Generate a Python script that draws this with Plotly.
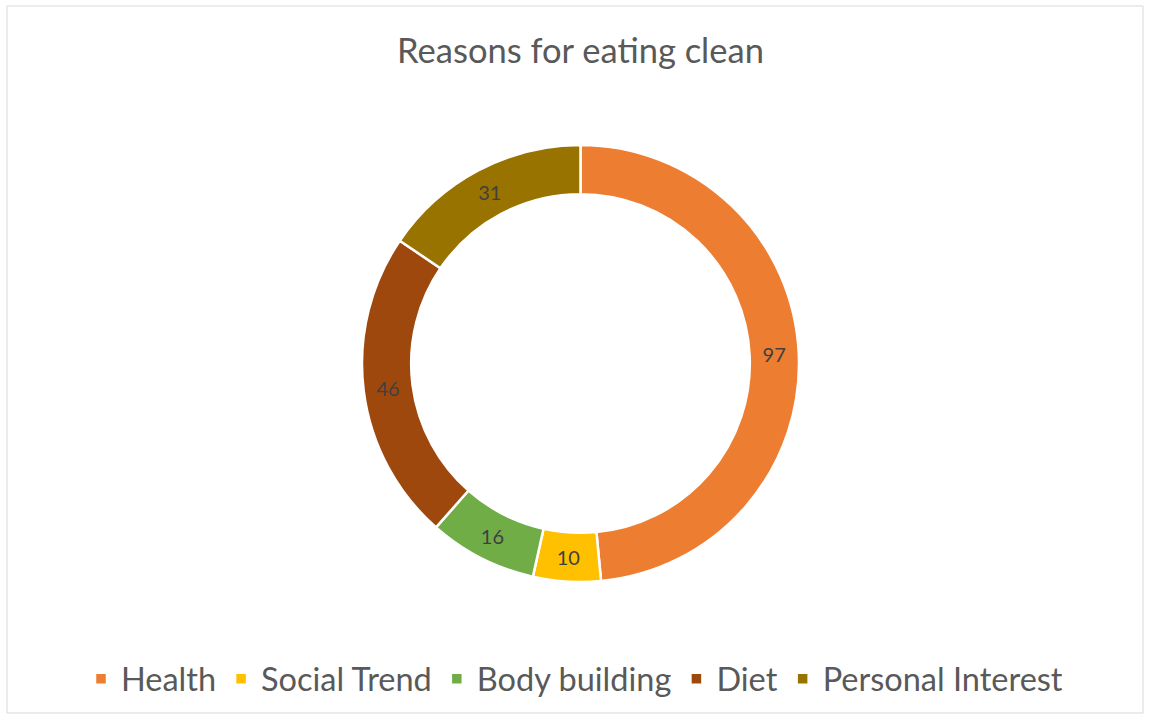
import plotly.graph_objects as go

categories = ["Health", "Social Trend", "Body building", "Diet", "Personal Interest"]
values = [97, 10, 16, 46, 31]
colors = ["#ED7D31", "#FFC000", "#70AD47", "#9E480E", "#997300"]
title_text = "Reasons for eating clean"

W, H = 1149, 718
cx, cy, R = 580.5, 363.5, 218.5

fig = go.Figure(go.Pie(
    labels=categories,
    values=values,
    hole=0.775,
    sort=False,
    direction="clockwise",
    rotation=0,
    marker=dict(colors=colors, line=dict(color="white", width=2.5)),
    textinfo="value",
    textposition="inside",
    insidetextorientation="horizontal",
    textfont=dict(family="Lato, Carlito, sans-serif", size=20, color="#404040"),
    domain=dict(x=[(cx - 560) / W, (cx + 560) / W], y=[(H - cy - R) / H, (H - cy + R) / H]),
    showlegend=True,
))

fig.update_layout(
    width=W, height=H,
    margin=dict(l=0, r=0, t=0, b=0),
    paper_bgcolor="white",
    font=dict(family="Lato, Carlito, sans-serif", color="#595959"),
    title=dict(text=title_text, x=cx / W, xanchor="center", y=1 - 51 / H, yanchor="middle",
               font=dict(size=34.5, color="#595959", family="Lato, Carlito, sans-serif")),
    legend=dict(orientation="h", x=0.5, xanchor="center", y=(H - 679) / H, yanchor="middle",
                font=dict(size=32.5, color="#595959"), itemwidth=30, traceorder="normal"),
    shapes=[dict(type="rect", xref="paper", yref="paper",
                 x0=7 / W, x1=1143 / W, y0=1 - 713 / H, y1=1 - 6 / H,
                 line=dict(color="#D9D9D9", width=1), fillcolor="rgba(0,0,0,0)", layer="below")],
)

fig.write_html("out.html")
